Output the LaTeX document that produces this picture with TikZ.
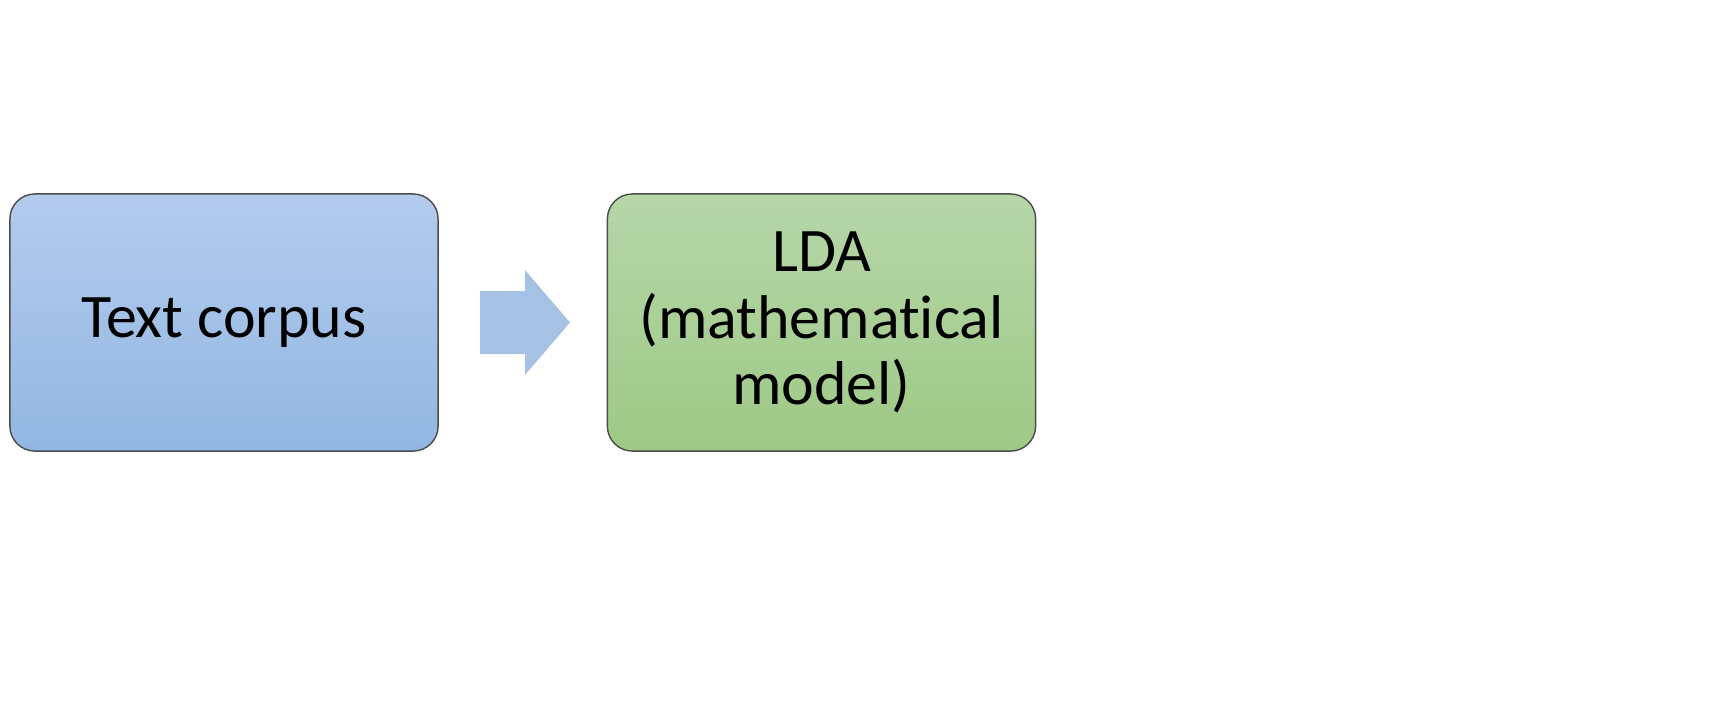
\documentclass[tikz,border=0pt]{standalone}
\usepackage{fontspec}
\setmainfont[Ligatures={NoCommon,NoRare}]{Carlito}
\definecolor{btop}{RGB}{180,203,236}
\definecolor{bbot}{RGB}{146,183,226}
\definecolor{gtop}{RGB}{182,214,168}
\definecolor{gbot}{RGB}{158,201,134}
\definecolor{arr}{RGB}{165,194,229}
\begin{document}
\begin{tikzpicture}[x=0.01cm,y=-0.01cm,
  box/.style={draw=black!70,line width=0.4pt,rounded corners=0.25cm,minimum width=4.28cm,minimum height=2.57cm,align=center,font=\fontsize{17.6}{19}\selectfont,inner sep=0pt}]
\useasboundingbox (0,0) rectangle (1736,714);
\node[box,top color=btop,bottom color=bbot] (a) at (224,322.5) {Text corpus};
\node[box,top color=gtop,bottom color=gbot] (b) at (821.5,322.5) {LDA\\(mathematical\\model)};
\fill[arr] (480,291) -- (525,291) -- (525,270) -- (570,322.5) -- (525,375) -- (525,354) -- (480,354) -- cycle;
\end{tikzpicture}
\end{document}
